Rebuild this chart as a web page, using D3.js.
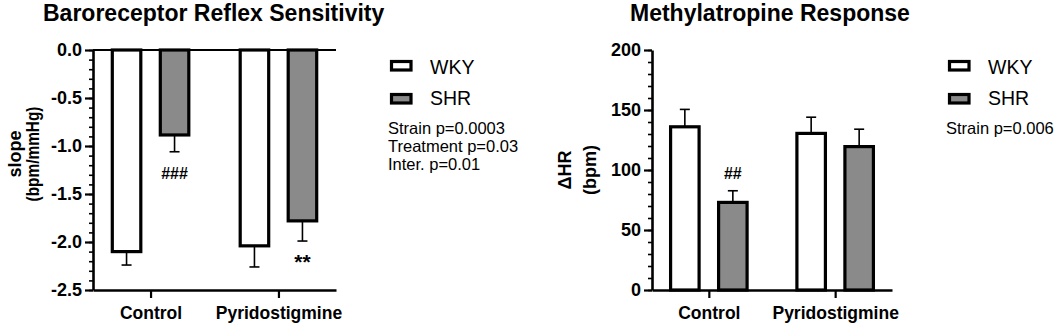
<!DOCTYPE html>
<html>
<head>
<meta charset="utf-8">
<script src="https://cdn.jsdelivr.net/npm/d3@7"></script>
<style>
  body { margin: 0; background: #fff; }
  svg { font-family: "Liberation Sans", Arial, sans-serif; }
</style>
</head>
<body>
<svg id="chart" width="1057" height="326"></svg>
<script>
// data
const categories = ["Control", "Pyridostigmine"];
const series = ["WKY", "SHR"];

const brsWKY = [-2.10, -2.04];
const brsWKYErr = [0.14, 0.22];
const brsSHR = [-0.885, -1.78];
const brsSHRErr = [0.175, 0.21];
const brsMarks = ["###", "**"];
const brsTicks = [0, -0.5, -1.0, -1.5, -2.0, -2.5];
const brsStats = ["Strain p=0.0003", "Treatment p=0.03", "Inter. p=0.01"];

const mrWKY = [136, 130.5];
const mrWKYErr = [14.5, 13.5];
const mrSHR = [73, 119.5];
const mrSHRErr = [9.7, 14.5];
const mrMarks = ["##", ""];
const mrTicks = [0, 50, 100, 150, 200];
const mrStats = ["Strain p=0.006"];

const fills = {WKY: "#ffffff", SHR: "#8a8a8a"};

const svg = d3.select("#chart");

function drawPanel(o) {
    const g = svg.append("g");
    const y = d3.scaleLinear().domain(o.domain).range([290, 50]);
    const x = d3.scalePoint().domain(categories).range([o.left, o.right]).padding(0.45);
    const xs = d3.scaleBand().domain(series).range([-48, 48]);
    const barW = 28.5;

    // title
    g.append("text")
        .attr("x", o.titleX).attr("y", 21)
        .attr("font-size", 23).attr("font-weight", "bold")
        .text(o.title);

    // zero line
    if (o.zeroLine) {
        g.append("line")
            .attr("x1", o.left).attr("x2", o.right)
            .attr("y1", y(0)).attr("y2", y(0))
            .attr("stroke", "#000").attr("stroke-width", 2);
    }

    const rows = [];
    series.forEach(s => {
        categories.forEach((c, i) => {
            rows.push({s, c, v: o.values[s][i], e: o.errors[s][i], mark: s === "SHR" ? o.marks[i] : ""});
        });
    });

    const dir = o.domain[0] < 0 ? -1 : 1;

    // error bars (drawn before bars so only the outward part shows)
    rows.forEach(d => {
        const cx = x(d.c) + xs(d.s) + xs.bandwidth() / 2;
        const yEnd = y(d.v + dir * d.e);
        g.append("line")
            .attr("x1", cx).attr("x2", cx)
            .attr("y1", y(d.v)).attr("y2", yEnd)
            .attr("stroke", "#000").attr("stroke-width", 1.6);
        g.append("line")
            .attr("x1", cx - 5).attr("x2", cx + 5)
            .attr("y1", yEnd).attr("y2", yEnd)
            .attr("stroke", "#000").attr("stroke-width", 1.6);
        if (d.mark) {
            const star = d.mark[0] === "*";
            g.append("text")
                .attr("x", cx)
                .attr("y", yEnd + (dir < 0 ? (star ? 28 : 27) : -12))
                .attr("text-anchor", "middle")
                .attr("font-size", star ? 21 : 16)
                .attr("font-weight", "bold")
                .text(d.mark);
        }
    });

    g.selectAll("rect.bar").data(rows).join("rect")
        .attr("class", "bar")
        .attr("x", d => x(d.c) + xs(d.s) + xs.bandwidth() / 2 - barW / 2)
        .attr("width", barW)
        .attr("y", d => Math.min(y(0), y(d.v)))
        .attr("height", d => Math.abs(y(d.v) - y(0)))
        .attr("fill", d => fills[d.s])
        .attr("stroke", "#000").attr("stroke-width", 3.2);

    // y axis
    const yAxis = g.append("g").attr("transform", `translate(${o.left},0)`)
        .call(d3.axisLeft(y).tickValues(o.ticks).tickSize(8).tickSizeOuter(0).tickPadding(3)
            .tickFormat(o.fmt));
    yAxis.select(".domain").attr("stroke-width", 2.6);
    yAxis.selectAll(".tick line").attr("stroke-width", 2.2);
    yAxis.selectAll(".tick text")
        .attr("font-size", 18).attr("font-weight", "bold")
        .attr("font-family", "Liberation Sans, Arial, sans-serif").attr("fill", "#000");

    const minor = d3.range(o.domain[0], o.domain[1] + o.minorStep / 2, o.minorStep);
    const mAxis = g.append("g").attr("transform", `translate(${o.left},0)`)
        .call(d3.axisLeft(y).tickValues(minor).tickSize(4).tickFormat(""));
    mAxis.select(".domain").remove();
    mAxis.selectAll(".tick line").attr("stroke-width", 1.6);

    // x axis
    const xAxis = g.append("g").attr("transform", `translate(0,290)`)
        .call(d3.axisBottom(x).tickSize(8).tickSizeOuter(0).tickPadding(9));
    xAxis.select(".domain").attr("stroke-width", 2.6);
    xAxis.selectAll(".tick line").attr("stroke-width", 2.2);
    xAxis.selectAll(".tick text")
        .attr("font-size", 17.5).attr("font-weight", "bold")
        .attr("font-family", "Liberation Sans, Arial, sans-serif").attr("fill", "#000");

    // y label (two lines)
    o.yLabel.forEach((t, i) => {
        const lab = g.append("text")
            .attr("transform", `translate(${o.yLabelX[i]},${o.yLabelY}) rotate(-90)`)
            .attr("text-anchor", "middle")
            .attr("dominant-baseline", "central")
            .attr("font-size", 18).attr("font-weight", "bold")
            .text(t);
        if (o.yLabelLen && o.yLabelLen[i]) {
            lab.attr("textLength", o.yLabelLen[i]).attr("lengthAdjust", "spacingAndGlyphs");
        }
    });

    // legend
    const leg = g.append("g").attr("transform", `translate(${o.legendX},0)`);
    series.forEach((s, i) => {
        leg.append("rect")
            .attr("x", 1.5).attr("y", 61.5 + i * 33)
            .attr("width", 19.5).attr("height", 8.5)
            .attr("fill", fills[s]).attr("stroke", "#000").attr("stroke-width", 3.2);
        leg.append("text")
            .attr("x", 40).attr("y", 73.5 + i * 31.5)
            .attr("font-size", 19.5)
            .text(s);
    });
    o.stats.forEach((t, i) => {
        leg.append("text")
            .attr("x", -2).attr("y", 133.5 + i * 18.3)
            .attr("font-size", 16.5)
            .text(t);
    });
}

drawPanel({
    title: "Baroreceptor Reflex Sensitivity", titleX: 43,
    left: 93, right: 336, domain: [-2.5, 0], ticks: brsTicks, minorStep: 0.1,
    fmt: d => d.toFixed(1), zeroLine: true,
    values: {WKY: brsWKY, SHR: brsSHR}, errors: {WKY: brsWKYErr, SHR: brsSHRErr},
    marks: brsMarks,
    yLabel: ["slope", "(bpm/mmHg)"], yLabelX: [15, 33], yLabelY: 154, yLabelLen: [null, 95],
    legendX: 390, stats: brsStats
});

drawPanel({
    title: "Methylatropine Response", titleX: 630,
    left: 652, right: 892, domain: [0, 200], ticks: mrTicks, minorStep: 10,
    fmt: d => d, zeroLine: false,
    values: {WKY: mrWKY, SHR: mrSHR}, errors: {WKY: mrWKYErr, SHR: mrSHRErr},
    marks: mrMarks,
    yLabel: ["ΔHR", "(bpm)"], yLabelX: [565, 590], yLabelY: 170,
    legendX: 948, stats: mrStats
});
</script>
</body>
</html>
